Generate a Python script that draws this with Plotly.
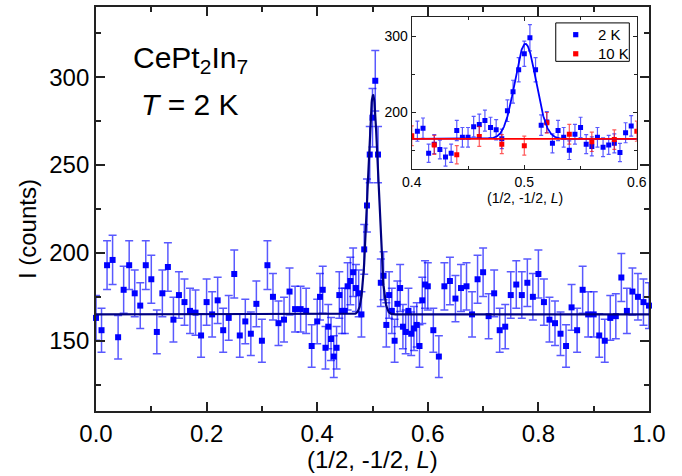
import numpy as np
import plotly.graph_objects as go

# ---------------- data ----------------
L_2K = [0.00, 0.01, 0.02, 0.03, 0.04, 0.05, 0.06, 0.07, 0.08, 0.09,
        0.10, 0.11, 0.12, 0.13, 0.14, 0.15, 0.16, 0.17, 0.18, 0.19,
        0.20, 0.21, 0.22, 0.23, 0.24, 0.25, 0.26, 0.27, 0.28, 0.29,
        0.30, 0.31, 0.32, 0.33, 0.34, 0.35, 0.36, 0.37, 0.38, 0.39,
        0.400, 0.405, 0.410, 0.415, 0.420, 0.425, 0.430, 0.435, 0.440, 0.445,
        0.450, 0.455, 0.460, 0.465, 0.470, 0.475, 0.480, 0.485, 0.490, 0.495,
        0.500, 0.505, 0.510, 0.515, 0.520, 0.525, 0.530, 0.535, 0.540, 0.545,
        0.550, 0.555, 0.560, 0.565, 0.570, 0.575, 0.580, 0.585, 0.590, 0.595,
        0.600,
        0.61, 0.62, 0.63, 0.64, 0.65, 0.66, 0.67, 0.68, 0.69, 0.70,
        0.71, 0.72, 0.73, 0.74, 0.75, 0.76, 0.77, 0.78, 0.79, 0.80,
        0.81, 0.82, 0.83, 0.84, 0.85, 0.86, 0.87, 0.88, 0.89, 0.90,
        0.91, 0.92, 0.93, 0.94, 0.95, 0.96, 0.97, 0.98, 0.99, 1.00]
I_2K = [163, 156, 193, 196, 152, 179, 193, 177, 170, 193,
        185, 155, 177, 192, 162, 176, 172, 167, 166, 153,
        172, 165, 173, 156, 163, 188, 153, 161, 154, 171,
        150, 193, 175, 160, 162, 178, 168, 168, 167, 147,
        161, 175, 179, 146, 158, 151, 141, 146, 176, 167,
        167, 181, 184, 189, 180, 177, 165, 202, 227, 256,
        277, 298, 256, 183, 187, 159, 176, 167, 150, 171,
        180, 158, 155, 167, 154, 157, 159, 147, 173, 182,
        181,
        156, 141, 181, 184, 174, 180, 181, 165, 185, 189,
        164, 177, 156, 158, 176, 182, 176, 183, 175, 188,
        172, 162, 160, 154, 147, 169, 156, 179, 165, 165,
        153, 150, 163, 164, 186, 167, 178, 175, 172, 170]

L_10K = [0.40, 0.42, 0.44, 0.46, 0.48, 0.50, 0.52, 0.54, 0.56, 0.58, 0.60]
I_10K = [169, 157, 144, 168, 158, 156, 186, 171, 161, 164, 175]

SERIES_NAMES = ["2 K", "10 K"]

# Gaussian + constant fit parameters (2 K) and constant fit (10 K)
FIT_BASE = 165.0
FIT_AMP = 125.0
FIT_CENTER = 0.501
FIT_SIGMA = 0.0094
FIT_10K = 165.0

x2 = np.array(L_2K)
y2 = np.array(I_2K, dtype=float)
e2 = np.sqrt(y2)          # counting (Poisson) errors
x10 = np.array(L_10K)
y10 = np.array(I_10K, dtype=float)
e10 = np.sqrt(y10)

xf = np.linspace(0.0, 1.0, 2001)
yf = FIT_BASE + FIT_AMP * np.exp(-(xf - FIT_CENTER) ** 2 / (2 * FIT_SIGMA ** 2))
xfi = np.linspace(0.4, 0.6, 801)
yfi = FIT_BASE + FIT_AMP * np.exp(-(xfi - FIT_CENTER) ** 2 / (2 * FIT_SIGMA ** 2))

ins = (x2 > 0.402) & (x2 < 0.598)

FONT = "Arial, Liberation Sans, sans-serif"
BLUE = "#0000ff"
RED = "#ff0000"
NAVY = "#000080"
AX = "#222222"

fig = go.Figure()

# ---- main panel ----
fig.add_trace(go.Scatter(
    x=x2, y=y2, mode="markers", name=SERIES_NAMES[0], showlegend=False, cliponaxis=False,
    marker=dict(symbol="square", size=6, color=BLUE),
    error_y=dict(type="data", array=e2, color="rgba(0,0,255,0.65)", thickness=1.5, width=4),
    xaxis="x", yaxis="y"))
fig.add_trace(go.Scatter(
    x=xf, y=yf, mode="lines", showlegend=False,
    line=dict(color=NAVY, width=2.2), xaxis="x", yaxis="y"))

# ---- inset ----
fig.add_trace(go.Scatter(
    x=x2[ins], y=y2[ins], mode="markers", name=SERIES_NAMES[0], showlegend=False,
    marker=dict(symbol="square", size=5, color=BLUE),
    error_y=dict(type="data", array=e2[ins], color="rgba(0,0,255,0.65)", thickness=1.2, width=2),
    xaxis="x2", yaxis="y2"))
fig.add_trace(go.Scatter(
    x=x10, y=y10, mode="markers", name=SERIES_NAMES[1], showlegend=False,
    marker=dict(symbol="square", size=5, color=RED),
    error_y=dict(type="data", array=e10, color="rgba(255,0,0,0.65)", thickness=1.2, width=2),
    xaxis="x2", yaxis="y2"))
fig.add_trace(go.Scatter(
    x=xfi, y=yfi, mode="lines", showlegend=False,
    line=dict(color=BLUE, width=1.8), xaxis="x2", yaxis="y2"))
fig.add_trace(go.Scatter(
    x=[0.4, 0.6], y=[FIT_10K, FIT_10K], mode="lines", showlegend=False,
    line=dict(color=RED, width=1.8), xaxis="x2", yaxis="y2"))

main_axis = dict(showline=True, linecolor=AX, linewidth=1.8, mirror="allticks",
                 ticks="inside", ticklen=9, tickwidth=1.5, tickcolor=AX,
                 showgrid=False, zeroline=False,
                 tickfont=dict(family=FONT, size=24, color="black"))
inset_axis = dict(showline=True, linecolor=AX, linewidth=1.2, mirror="allticks",
                  ticks="inside", ticklen=4, tickwidth=1, tickcolor=AX,
                  showgrid=False, zeroline=False,
                  tickfont=dict(family=FONT, size=14, color="black"))

# ---- inset legend (box, symbols, labels) in paper coordinates ----
LEG_X0, LEG_X1, LEG_Y0, LEG_Y1 = 0.8314, 0.9644, 0.8655, 0.9606
LEG_SYM_X, LEG_TXT_X = 0.8675, 0.9035
LEG_ROWS = [0.9315, 0.8842]
LEG_COLORS = [BLUE, RED]

shapes = [dict(type="rect", xref="paper", yref="paper", x0=LEG_X0, x1=LEG_X1, y0=LEG_Y0, y1=LEG_Y1,
               line=dict(color="black", width=1), fillcolor="white", layer="above")]
legend_texts = []
for ry, col, nm in zip(LEG_ROWS, LEG_COLORS, SERIES_NAMES):
    shapes.append(dict(type="rect", xref="paper", yref="paper",
                       xsizemode="pixel", ysizemode="pixel", xanchor=LEG_SYM_X, yanchor=ry,
                       x0=-2.6, x1=2.6, y0=-2.6, y1=2.6,
                       line=dict(width=0), fillcolor=col, layer="above"))
    legend_texts.append(dict(text=nm, xref="paper", yref="paper", x=LEG_TXT_X, y=ry,
                             xanchor="left", yanchor="middle", showarrow=False,
                             font=dict(family=FONT, size=15, color="black")))

fig.update_layout(
    width=682, height=476,
    margin=dict(l=96, r=33, t=5, b=65),
    paper_bgcolor="white", plot_bgcolor="white",
    font=dict(family=FONT, color="black"),
    showlegend=False,
    xaxis=dict(main_axis, range=[0, 1], domain=[0, 1], tickvals=[0, 0.2, 0.4, 0.6, 0.8, 1.0],
               ticktext=["0.0", "0.2", "0.4", "0.6", "0.8", "1.0"],
               minor=dict(ticks="inside", ticklen=5, tickwidth=1.5, tickcolor=AX, dtick=0.1)),
    yaxis=dict(main_axis, range=[110, 340], domain=[0, 1], tickvals=[150, 200, 250, 300],
               minor=dict(ticks="inside", ticklen=5, tickwidth=1.5, tickcolor=AX,
                          tickvals=[125, 175, 225, 275, 325])),
    xaxis2=dict(inset_axis, range=[0.4, 0.6], domain=[0.571, 0.978], anchor="y2",
                tickvals=[0.4, 0.5, 0.6], ticktext=["0.4", "0.5", "0.6"],
                minor=dict(ticks="inside", ticklen=3, tickwidth=1, tickcolor=AX, tickvals=[0.45, 0.55])),
    yaxis2=dict(inset_axis, range=[125, 325], domain=[0.5985, 0.9746], anchor="x2",
                tickvals=[200, 300],
                minor=dict(ticks="inside", ticklen=3, tickwidth=1, tickcolor=AX, tickvals=[150, 250])),
    shapes=shapes,
    annotations=[
        dict(text="(1/2, -1/2, <i>L</i>)", xref="paper", yref="paper", x=0.5, y=-0.12,
             xanchor="center", yanchor="middle", showarrow=False,
             font=dict(family=FONT, size=24, color="black")),
        dict(text="I (counts)", xref="paper", yref="paper", x=-0.125, y=0.45,
             xanchor="center", yanchor="middle", textangle=-90, showarrow=False,
             font=dict(family=FONT, size=24, color="black")),
        dict(text="(1/2, -1/2, <i>L</i>)", xref="paper", yref="paper", x=0.776, y=0.527,
             xanchor="center", yanchor="middle", showarrow=False,
             font=dict(family=FONT, size=14, color="black")),
        dict(text="CePt<sub>2</sub>In<sub>7</sub>", xref="paper", yref="paper", x=0.17, y=0.87,
             xanchor="center", yanchor="middle", showarrow=False,
             font=dict(family=FONT, size=30, color="black")),
        dict(text="<i>T</i> = 2 K", xref="paper", yref="paper", x=0.17, y=0.758,
             xanchor="center", yanchor="middle", showarrow=False,
             font=dict(family=FONT, size=30, color="black")),
    ] + legend_texts,
)

fig.write_html("out.html", post_script="document.body.style.margin='0';",
               config={"displayModeBar": False})
